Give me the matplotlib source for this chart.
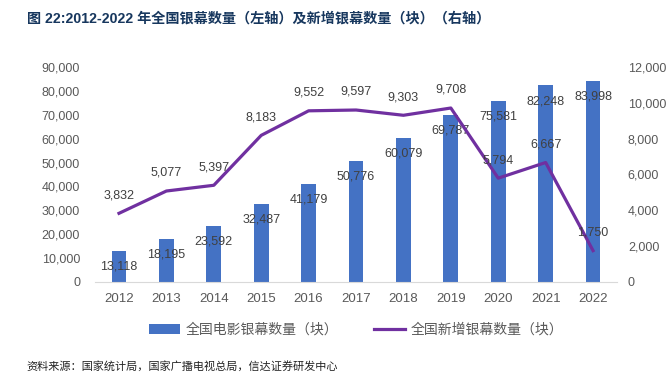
import numpy as np
import matplotlib
matplotlib.use("Agg")
import matplotlib.pyplot as plt
from matplotlib.ticker import FuncFormatter, MultipleLocator

plt.rcParams["font.family"] = ["Liberation Sans", "Noto Sans CJK SC", "DejaVu Sans"]

years = ["2012", "2013", "2014", "2015", "2016", "2017", "2018", "2019", "2020", "2021", "2022"]
screens_total = [13118, 18195, 23592, 32487, 41179, 50776, 60079, 69787, 75581, 82248, 83998]
screens_new = [3832, 5077, 5397, 8183, 9552, 9597, 9303, 9708, 5794, 6667, 1750]

BAR = "#4472C4"
LINE = "#7030A0"
TICK = "#595959"
LABEL = "#404040"

fig = plt.figure(figsize=(6.72, 3.74), dpi=100)
ax = fig.add_axes([0.1418, 0.246, 0.776, 0.575])
ax2 = ax.twinx()

x = np.arange(len(years))
bars = ax.bar(x, screens_total, width=0.31, color=BAR, zorder=2,
              label="全国电影银幕数量（块）")
ln, = ax2.plot(x, screens_new, color=LINE, lw=2.3, zorder=3,
               label="全国新增银幕数量（块）")

fmt = FuncFormatter(lambda v, p: f"{int(v):,}")
ax.set_xlim(-0.5, len(years) - 0.5)
ax.set_ylim(0, 90000)
ax.yaxis.set_major_locator(MultipleLocator(10000))
ax.yaxis.set_major_formatter(fmt)
ax2.set_ylim(0, 12000)
ax2.yaxis.set_major_locator(MultipleLocator(2000))
ax2.yaxis.set_major_formatter(fmt)
ax.set_xticks(x)
ax.set_xticklabels(years)

for a in (ax, ax2):
    for s in a.spines.values():
        s.set_visible(False)
    a.tick_params(length=0, labelsize=9, labelcolor=TICK)
ax.spines["bottom"].set_visible(True)
ax.spines["bottom"].set_color("#D9D9D9")
ax.tick_params(axis="y", pad=11)
ax.tick_params(axis="x", pad=8, labelsize=9.5)
ax2.tick_params(axis="y", pad=8)

ax.set_zorder(1)
ax2.set_zorder(2)
ax2.patch.set_visible(False)

# data labels
for xi, v in zip(x, screens_total):
    ax.annotate(f"{v:,}", (xi, v), xytext=(0, -11.2), textcoords="offset points",
                ha="center", va="center", fontsize=9, color=LABEL, zorder=4)
for xi, v in zip(x, screens_new):
    ax2.annotate(f"{v:,}", (xi, v), xytext=(0, 13), textcoords="offset points",
                 ha="center", va="center", fontsize=9, color=LABEL, zorder=4)

fig.legend(handles=[bars, ln], loc="center", bbox_to_anchor=(0.53, 0.118),
           ncol=2, frameon=False, handlelength=2.2,
           columnspacing=2.6, handletextpad=0.4, labelcolor=TICK,
           prop={"family": ["Noto Sans CJK SC"], "size": 10})

fig.text(0.04, 0.949, "图 22:2012-2022 年全国银幕数量（左轴）及新增银幕数量（块）（右轴）",
         ha="left", va="center", fontsize=10.2, fontweight="bold", color="#17375E",
         family=["Liberation Sans", "Noto Sans CJK SC"])
fig.text(0.04, 0.02, "资料来源：国家统计局，国家广播电视总局，信达证券研发中心",
         ha="left", va="center", fontsize=8, color="#222222",
         family=["Noto Sans CJK SC"])

fig.savefig("out.png", dpi=100)
